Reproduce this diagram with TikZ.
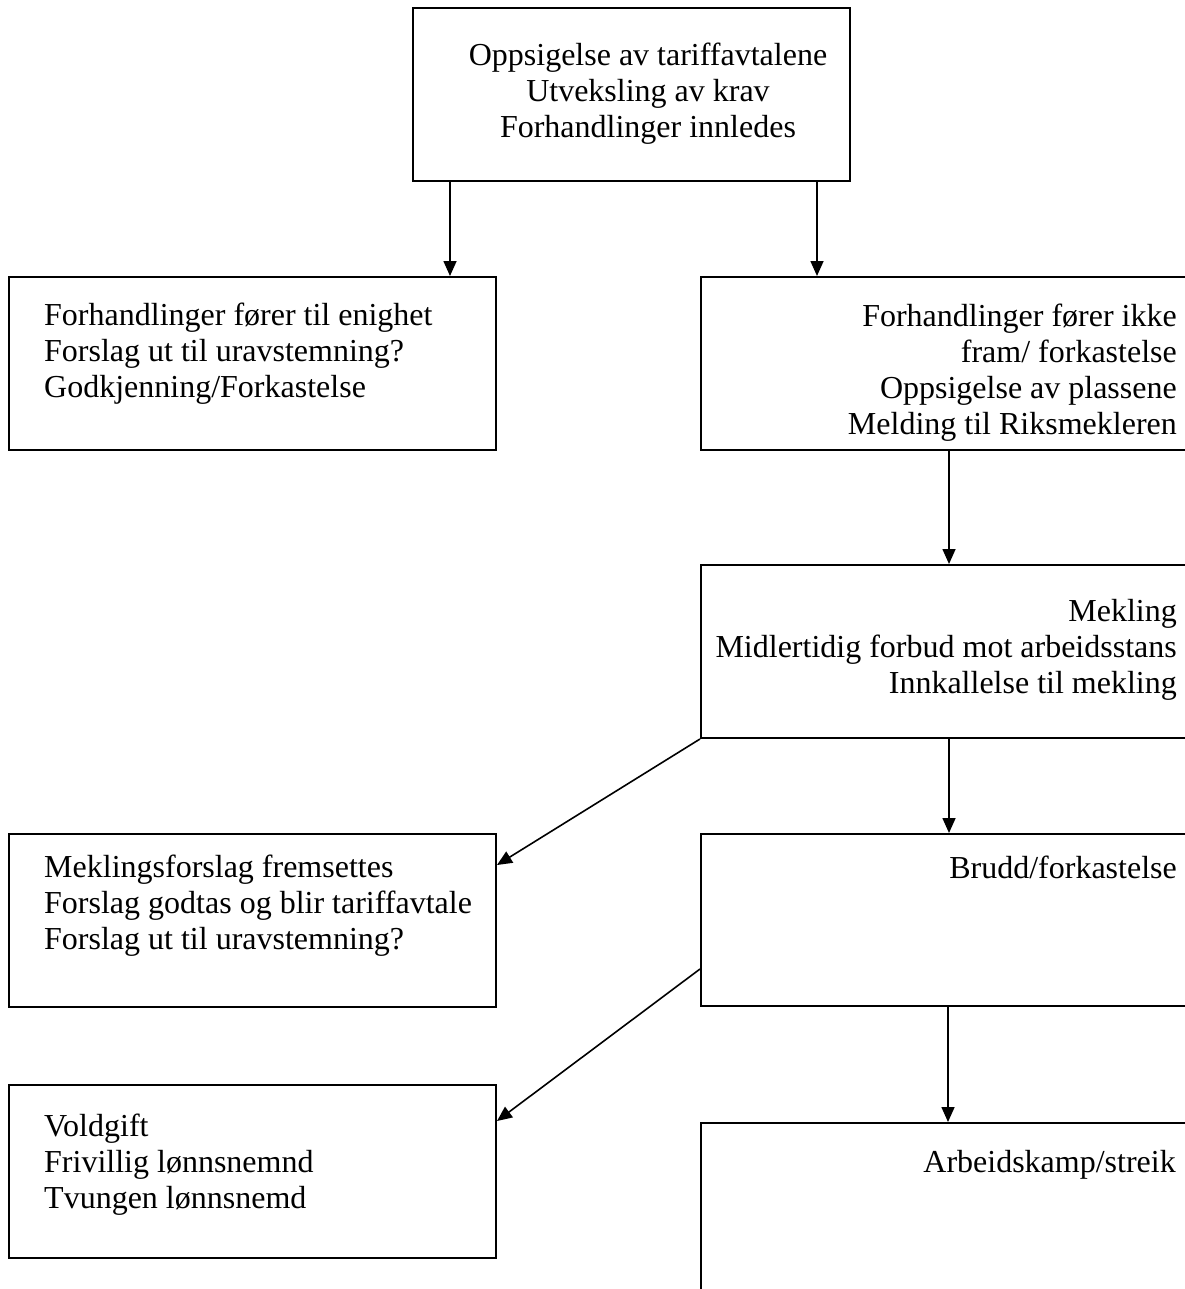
\documentclass[tikz,border=0pt]{standalone}
\usepackage{fontspec}
\setmainfont{Liberation Serif}
\usepackage{tikz}
\usetikzlibrary{arrows.meta}

\begin{document}
\begin{tikzpicture}[x=1pt,y=1pt,yscale=-1,xscale=1,
  box/.style={draw, line width=2pt, rectangle, anchor=north west, inner sep=0pt},
  txt/.style={inner sep=0pt, font=\fontsize{32}{36}\selectfont},
  arr/.style={line width=1.6pt, -{Triangle[length=15pt,width=13pt]}}]
\useasboundingbox (0,0) rectangle (1184,1289);

%Shape: Rectangle
\node[box, minimum width=437, minimum height=173] (top) at (412,7) {};
%Shape: Rectangle
\node[box, minimum width=487, minimum height=173] (enighet) at (8,276) {};
%Shape: Rectangle
\node[box, minimum width=495, minimum height=173] (ikkefram) at (700,276) {};
%Shape: Rectangle
\node[box, minimum width=495, minimum height=173] (mekling) at (700,564) {};
%Shape: Rectangle
\node[box, minimum width=487, minimum height=173] (forslag) at (8,833) {};
%Shape: Rectangle
\node[box, minimum width=495, minimum height=172] (brudd) at (700,833) {};
%Shape: Rectangle
\node[box, minimum width=487, minimum height=173] (voldgift) at (8,1084) {};
%Shape: Rectangle
\node[box, minimum width=495, minimum height=180] (streik) at (700,1122) {};

%Straight Lines
\draw[arr] ([xshift=38]top.south west) -- ([xshift=38]top.south west |- enighet.north);
%Straight Lines
\draw[arr] ([xshift=-34]top.south east) -- ([xshift=-34]top.south east |- ikkefram.north);
%Straight Lines
\draw[arr] ([xshift=249]ikkefram.south west) -- ([xshift=249]ikkefram.south west |- mekling.north);
%Straight Lines
\draw[arr] ([xshift=249]mekling.south west) -- ([xshift=249]mekling.south west |- brudd.north);
%Straight Lines
\draw[arr] ([xshift=248]brudd.south west) -- ([xshift=248]brudd.south west |- streik.north);
%Straight Lines
\draw[arr] (mekling.south west) -- ([yshift=32]forslag.north east);
%Straight Lines
\draw[arr] ([yshift=136]brudd.north west) -- ([yshift=37]voldgift.north east);

% Text Node
\node[txt, align=center, anchor=base] (toptxt) at (648,138) {Oppsigelse av tariffavtalene\\Utveksling av krav\\Forhandlinger innledes};
% Text Node
\node[txt, align=left, anchor=base west] (enighettxt) at (44,397) {Forhandlinger fører til enighet\\Forslag ut til uravstemning?\\Godkjenning/Forkastelse};
% Text Node
\node[txt, align=right, anchor=base east] (ikkeframtxt) at (1177,434) {Forhandlinger fører ikke\\fram/ forkastelse\\Oppsigelse av plassene\\Melding til Riksmekleren};
% Text Node
\node[txt, align=right, anchor=base east] (meklingtxt) at (1177,693) {Mekling\\Midlertidig forbud mot arbeidsstans\\Innkallelse til mekling};
% Text Node
\node[txt, align=left, anchor=base west] (forslagtxt) at (44,949) {Meklingsforslag fremsettes\\Forslag godtas og blir tariffavtale\\Forslag ut til uravstemning?};
% Text Node
\node[txt, align=right, anchor=base east] (bruddtxt) at (1177,878) {Brudd/forkastelse};
% Text Node
\node[txt, align=left, anchor=base west] (voldgifttxt) at (44,1208) {Voldgift\\Frivillig lønnsnemnd\\Tvungen lønnsnemd};
% Text Node
\node[txt, align=right, anchor=base east] (streiktxt) at (1176,1172) {Arbeidskamp/streik};

\end{tikzpicture}
\end{document}
